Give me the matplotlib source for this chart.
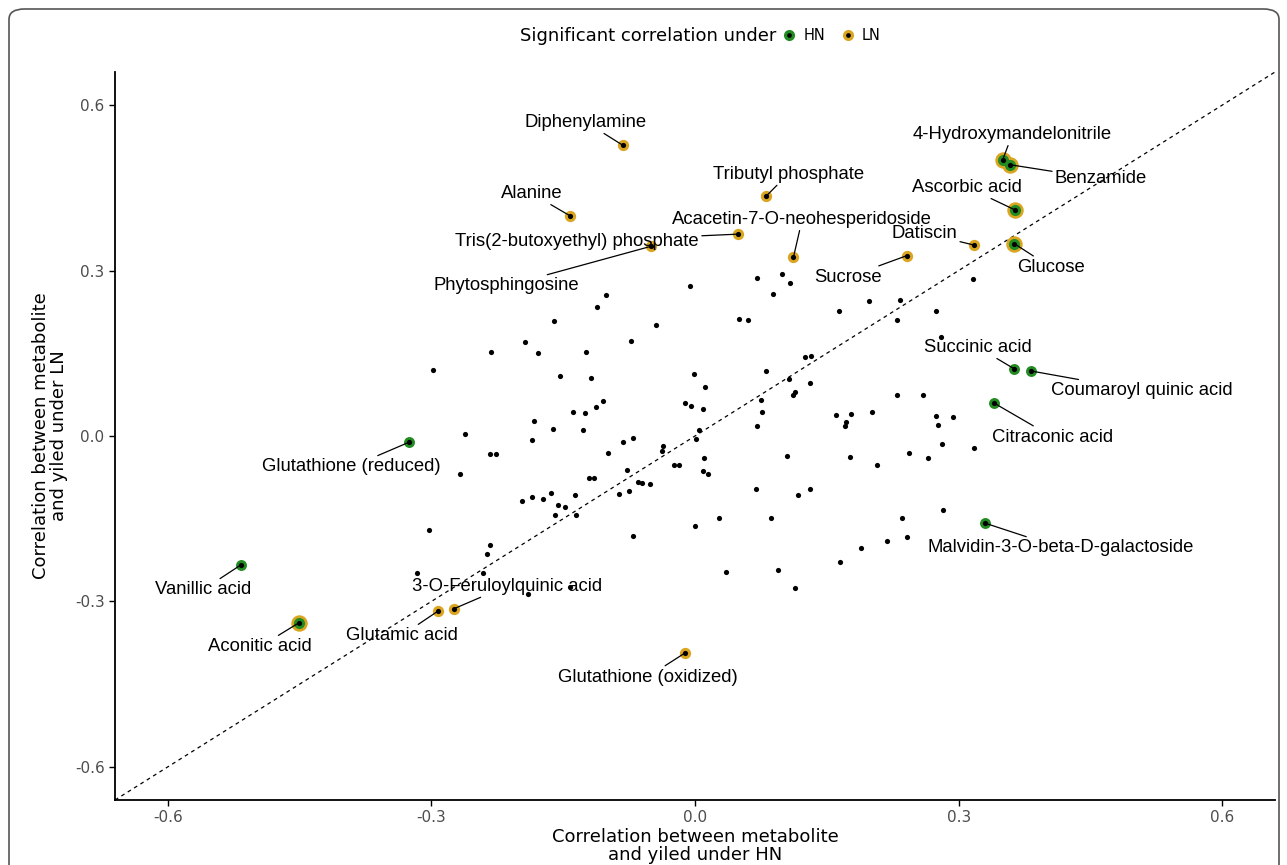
import matplotlib
matplotlib.use("Agg")
import matplotlib.pyplot as plt
from matplotlib.lines import Line2D
from matplotlib.patches import FancyBboxPatch

# background metabolites (not significant): correlation under HN / LN
bg_hn = [-0.006, -0.101, -0.112, -0.160, -0.044, -0.194, -0.073, -0.232, -0.179, -0.124,
         -0.298, -0.154, -0.118, -0.001, -0.105, -0.113, -0.011, -0.005, -0.183, -0.139,
         -0.125, -0.162, -0.128, -0.262, -0.186, 0.004, 0.001, -0.071, -0.082, -0.036,
         -0.038, -0.233, -0.227, -0.099, -0.024, -0.018, -0.267, -0.077, -0.121, -0.115,
         -0.065, -0.060, -0.051, -0.197, -0.185, -0.173, -0.164, -0.137, -0.087, -0.075,
         -0.156, -0.148, -0.159, -0.135, -0.303, -0.070, 0.000, -0.233, -0.237, -0.316,
         -0.241, -0.142, -0.190,
         0.071, 0.099, 0.108, 0.089, 0.050, 0.060, 0.164, 0.198, 0.233, 0.230,
         0.274, 0.316, 0.280, 0.125, 0.132, 0.081, 0.011, 0.107, 0.131, 0.114,
         0.112, 0.009, 0.075, 0.076, 0.070, 0.230, 0.260, 0.160, 0.177, 0.172,
         0.171, 0.201, 0.274, 0.294, 0.277, 0.281, 0.317, 0.243, 0.265, 0.176,
         0.207, 0.105, 0.010, 0.009, 0.015, 0.069, 0.117, 0.131, 0.027, 0.087,
         0.235, 0.282, 0.219, 0.241, 0.189, 0.165, 0.035, 0.095, 0.114]
bg_ln = [0.272, 0.255, 0.233, 0.209, 0.201, 0.171, 0.172, 0.152, 0.151, 0.152,
         0.120, 0.109, 0.106, 0.112, 0.064, 0.053, 0.060, 0.054, 0.027, 0.043,
         0.042, 0.012, 0.011, 0.004, -0.008, 0.010, -0.005, -0.003, -0.010, -0.018,
         -0.028, -0.033, -0.033, -0.031, -0.052, -0.053, -0.069, -0.062, -0.076, -0.076,
         -0.083, -0.085, -0.087, -0.117, -0.111, -0.115, -0.103, -0.107, -0.105, -0.100,
         -0.126, -0.129, -0.144, -0.143, -0.170, -0.181, -0.164, -0.197, -0.214, -0.249,
         -0.249, -0.274, -0.287,
         0.287, 0.294, 0.277, 0.258, 0.213, 0.211, 0.227, 0.245, 0.246, 0.210,
         0.227, 0.284, 0.180, 0.143, 0.145, 0.117, 0.089, 0.104, 0.096, 0.079,
         0.074, 0.049, 0.066, 0.043, 0.019, 0.074, 0.074, 0.038, 0.039, 0.025,
         0.018, 0.043, 0.036, 0.035, 0.020, -0.014, -0.022, -0.030, -0.039, -0.038,
         -0.053, -0.037, -0.040, -0.063, -0.069, -0.097, -0.107, -0.097, -0.148, -0.148,
         -0.149, -0.135, -0.190, -0.184, -0.203, -0.228, -0.246, -0.243, -0.275]

# labelled metabolites
names = ["Diphenylamine", "Tributyl phosphate", "Alanine", "Acacetin-7-O-neohesperidoside",
         "Tris(2-butoxyethyl) phosphate", "Phytosphingosine", "4-Hydroxymandelonitrile",
         "Benzamide", "Ascorbic acid", "Datiscin", "Glucose", "Sucrose", "Succinic acid",
         "Coumaroyl quinic acid", "Citraconic acid", "Malvidin-3-O-beta-D-galactoside",
         "Glutathione (reduced)", "Glutathione (oxidized)", "Vanillic acid", "Aconitic acid",
         "Glutamic acid", "3-O-Feruloylquinic acid"]
sig_hn = [-0.082, 0.081, -0.142, 0.112, 0.049, -0.050, 0.350, 0.358, 0.364, 0.318, 0.363,
          0.241, 0.363, 0.382, 0.340, 0.330, -0.325, -0.011, -0.517, -0.451, -0.292, -0.274]
sig_ln = [0.527, 0.435, 0.399, 0.324, 0.366, 0.344, 0.500, 0.492, 0.410, 0.346, 0.349,
          0.327, 0.122, 0.118, 0.060, -0.158, -0.011, -0.393, -0.234, -0.339, -0.317, -0.313]
sig_under = ["LN", "LN", "LN", "LN", "LN", "LN", "both", "both", "both", "LN", "both",
             "LN", "HN", "HN", "HN", "HN", "HN", "LN", "HN", "both", "LN", "LN"]

# where the repelled labels ended up
label_pos = {
    "Diphenylamine": (-0.124, 0.569),
    "Tributyl phosphate": (0.106, 0.475),
    "Alanine": (-0.186, 0.440),
    "Acacetin-7-O-neohesperidoside": (0.122, 0.393),
    "Tris(2-butoxyethyl) phosphate": (-0.134, 0.353),
    "Phytosphingosine": (-0.215, 0.272),
    "4-Hydroxymandelonitrile": (0.361, 0.547),
    "Benzamide": (0.462, 0.466),
    "Ascorbic acid": (0.310, 0.451),
    "Datiscin": (0.261, 0.368),
    "Glucose": (0.405, 0.306),
    "Sucrose": (0.174, 0.288),
    "Succinic acid": (0.322, 0.161),
    "Coumaroyl quinic acid": (0.508, 0.082),
    "Citraconic acid": (0.407, -0.002),
    "Malvidin-3-O-beta-D-galactoside": (0.416, -0.203),
    "Glutathione (reduced)": (-0.391, -0.056),
    "Glutathione (oxidized)": (-0.054, -0.437),
    "Vanillic acid": (-0.560, -0.279),
    "Aconitic acid": (-0.495, -0.382),
    "Glutamic acid": (-0.334, -0.362),
    "3-O-Feruloylquinic acid": (-0.214, -0.272),
}

GREEN = "#228B22"
ORANGE = "#DAA520"

W, H = 1287, 865
fig = plt.figure(figsize=(W / 100, H / 100), dpi=100)
ax = fig.add_axes([115 / W, 65 / H, 1160 / W, 728 / H])

lim = 0.66
ax.plot([-lim, lim], [-lim, lim], ls=(0, (3, 3)), color="black", lw=0.9, zorder=1)

# rings for significant metabolites
ln_x = [x for x, s in zip(sig_hn, sig_under) if s == "both"]
ln_y = [y for y, s in zip(sig_ln, sig_under) if s == "both"]
ax.scatter(ln_x, ln_y, s=140, color=ORANGE, lw=0, zorder=2)
ax.scatter(ln_x, ln_y, s=64, color=GREEN, lw=0, zorder=3)
lo_x = [x for x, s in zip(sig_hn, sig_under) if s == "LN"]
lo_y = [y for y, s in zip(sig_ln, sig_under) if s == "LN"]
ax.scatter(lo_x, lo_y, s=66, color=ORANGE, lw=0, zorder=2)
ho_x = [x for x, s in zip(sig_hn, sig_under) if s == "HN"]
ho_y = [y for y, s in zip(sig_ln, sig_under) if s == "HN"]
ax.scatter(ho_x, ho_y, s=62, color=GREEN, lw=0, zorder=2)

# all metabolites as small black dots
ax.scatter(bg_hn + sig_hn, bg_ln + sig_ln, s=14, color="black", lw=0, zorder=4)

for name, x, y in zip(names, sig_hn, sig_ln):
    ax.annotate(name, xy=(x, y), xytext=label_pos[name], ha="center", va="center",
                fontsize=13.3, family="Liberation Sans", color="black", zorder=5,
                arrowprops=dict(arrowstyle="-", color="black", lw=0.9,
                                shrinkA=0, shrinkB=0))

ax.set_xlim(-lim, lim)
ax.set_ylim(-lim, lim)
ticks = [-0.6, -0.3, 0.0, 0.3, 0.6]
ax.set_xticks(ticks)
ax.set_yticks(ticks)
ax.set_xticklabels(["-0.6", "-0.3", "0.0", "0.3", "0.6"])
ax.set_yticklabels(["-0.6", "-0.3", "0.0", "0.3", "0.6"])
ax.tick_params(labelsize=11, labelcolor="#4D4D4D", length=4, width=1, direction="out")
for side in ["top", "right"]:
    ax.spines[side].set_visible(False)
for side in ["left", "bottom"]:
    ax.spines[side].set_linewidth(1.3)
ax.set_xlabel("Correlation between metabolite\nand yiled under HN", fontsize=13,
              linespacing=1.0, labelpad=2)
ax.set_ylabel("Correlation between metabolite\nand yiled under LN", fontsize=13,
              linespacing=1.0, labelpad=5)

# legend on top
fig.text(776 / W, 1 - 36 / H, "Significant correlation under", fontsize=13,
         ha="right", va="center")
h_hn = (Line2D([], [], ls="", marker="o", ms=8, color=GREEN, mew=0),
        Line2D([], [], ls="", marker="o", ms=3.4, color="black", mew=0))
h_ln = (Line2D([], [], ls="", marker="o", ms=8, color=ORANGE, mew=0),
        Line2D([], [], ls="", marker="o", ms=3.4, color="black", mew=0))
fig.legend([h_hn, h_ln], ["HN", "LN"], loc="center left",
           bbox_to_anchor=(782 / W, 1 - 36 / H), ncol=2, frameon=False,
           fontsize=10.5, handlelength=1.0, handletextpad=0.5, columnspacing=1.0,
           borderaxespad=0, borderpad=0)

# frame of the figure panel
fig.patches.append(FancyBboxPatch((9 / W, -0.05), (1279 - 9) / W, 1.05 - 9 / H,
                                  boxstyle="round,pad=0,rounding_size=0.012",
                                  transform=fig.transFigure, fill=False,
                                  ec="#555555", lw=1.2))

fig.savefig("out.png", dpi=100)
